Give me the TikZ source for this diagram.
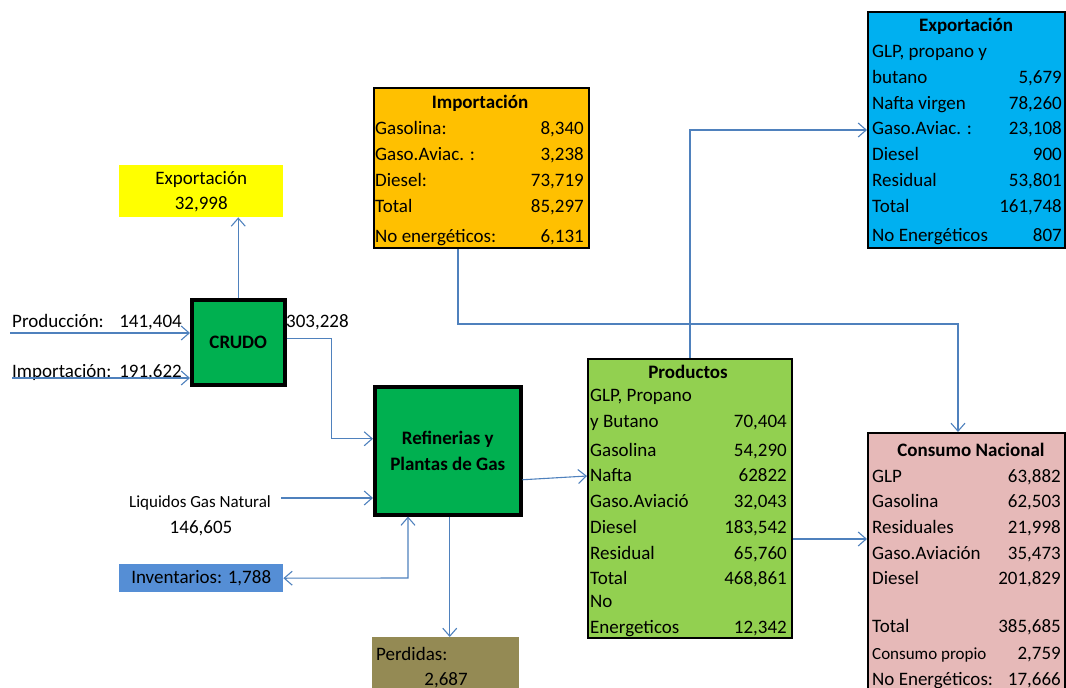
\documentclass[tikz,border=0pt]{standalone}
\usepackage{fontspec}
\setmainfont{Carlito}
\usepackage{xcolor}
\usepackage{tikz}
\usetikzlibrary{arrows.meta,positioning}
\definecolor{flowblue}{HTML}{4F81BD}
\definecolor{expcyan}{HTML}{00B0F0}
\definecolor{imporange}{HTML}{FFC000}
\definecolor{expyellow}{HTML}{FFFF00}
\definecolor{crudegreen}{HTML}{00B050}
\definecolor{prodgreen}{HTML}{92D050}
\definecolor{conspink}{HTML}{E6B9B8}
\definecolor{invblue}{HTML}{558ED5}
\definecolor{lossolive}{HTML}{948A54}
\tikzset{
  barb/.tip={Straight Barb[length=8pt,width=14pt]},
  flow/.style={draw=flowblue,line width=1.1pt,-barb},
  twoway/.style={draw=flowblue,line width=1.1pt,barb-barb},
  box/.style={draw=black,line width=2pt,inner sep=0,anchor=north west},
  heavybox/.style={box,line width=3.5pt,align=center,
    font=\fontsize{19}{26}\selectfont\bfseries},
  plainbox/.style={inner sep=0,anchor=north west,align=center},
  rowl/.style={anchor=base west,inner sep=0,yshift=-6pt},
  rowr/.style={anchor=base east,inner sep=0,yshift=-6pt},
  rowc/.style={anchor=base,inner sep=0,yshift=-6pt},
  title/.style={rowc,font=\fontsize{19}{23}\selectfont\bfseries},
  small/.style={font=\fontsize{17}{20}\selectfont}
}
\begin{document}
\begin{tikzpicture}[x=1pt,y=-1pt,font=\fontsize{19}{25}\selectfont]
  \useasboundingbox (0,0) rectangle (1066,688);

  % boxes
  \node[box,fill=expcyan,minimum width=197,minimum height=236] (expo) at (867,11) {};
  \node[box,fill=imporange,minimum width=215,minimum height=160] (imp) at (373,87) {};
  \node[plainbox,fill=expyellow,minimum width=164,minimum height=52] (expcr) at (119,165) {Exportación\\32,998};
  \node[heavybox,fill=crudegreen,minimum width=93,minimum height=85] (crudo) at (190,298) {CRUDO};
  \node[heavybox,fill=crudegreen,minimum width=146,minimum height=128] (ref) at (373,385) {Refinerias y\\Plantas de Gas};
  \node[plainbox,fill=invblue,minimum width=164,minimum height=28] (inv) at (119,564) {Inventarios: 1,788};
  \node[plainbox,fill=lossolive,minimum width=147,minimum height=60] (perd) at (372,637) {};
  \node[box,fill=prodgreen,minimum width=204,minimum height=279] (prod) at (587,358) {};
  \node[box,fill=conspink,minimum width=197,minimum height=265] (cons) at (867,432) {};

  % export of products
  \node[title] (expot) at (966,25) {Exportación};
  \foreach \y/\l/\r in {51/{GLP, propano y}/{}, 77/butano/{5,679}, 103/Nafta virgen/{78,260},
      128/Gaso.Aviac. :/{23,108}, 154/Diesel/900, 180/Residual/{53,801},
      206/Total/{161,748}, 235/No Energéticos/807}
    {\node[rowl] (expol\y) at (872,\y) {\l};
     \node[rowr] (expor\y) at (1062,\y) {\r};}

  % imports
  \node[title] (impt) at (480,102) {Importación};
  \foreach \y/\l/\r in {128/Gasolina:/{8,340}, 154/Gaso.Aviac. :/{3,238},
      180/Diesel:/{73,719}, 206/Total/{85,297}, 236/No energéticos:/{6,131}}
    {\node[rowl] (impl\y) at (375,\y) {\l};
     \node[rowr] (impr\y) at (584,\y) {\r};}

  % products
  \node[title] (prodt) at (688,372) {Productos};
  \foreach \y/\l/\r in {395/{GLP, Propano}/{}, 421/y Butano/{70,404}, 450/Gasolina/{54,290},
      475/Nafta/62822, 501/Gaso.Aviació/{32,043}, 527/Diesel/{183,542},
      553/Residual/{65,760}, 578/Total/{468,861}, 601/No/{}, 627/Energeticos/{12,342}}
    {\node[rowl] (prodl\y) at (590,\y) {\l};
     \node[rowr] (prodr\y) at (787,\y) {\r};}

  % national consumption
  \node[title] (const) at (971,450) {Consumo Nacional};
  \foreach \y/\l/\r in {476/GLP/{63,882}, 501/Gasolina/{62,503}, 527/Residuales/{21,998},
      553/Gaso.Aviación/{35,473}, 578/Diesel/{201,829}, 626/Total/{385,685},
      679/No Energéticos:/{17,666}}
    {\node[rowl] (consl\y) at (872,\y) {\l};
     \node[rowr] (consr\y) at (1061,\y) {\r};}
  \node[rowl,small] (consl653) at (872,653) {Consumo propio};
  \node[rowr] (consr653) at (1061,653) {2,759};

  % losses
  \node[rowl] (perdl) at (376,654) {Perdidas:};
  \node[rowc] (perdv) at (446,679) {2,687};

  % inputs to crude
  \node[rowl] (prodlbl) at (12,321) {Producción:};
  \node[rowr] (prodval) at (182,321) {141,404};
  \node[rowl] (implbl) at (12,371) {Importación:};
  \node[rowr] (impval) at (182,371) {191,622};
  \node[rowl] (crudoval) at (286,321) {303,228};
  \node[rowc,small] (lgnlbl) at (200,501) {Liquidos Gas Natural};
  \node[rowc] (lgnval) at (201,527) {146,605};

  % connectors
  \coordinate (prodin) at (10,333);
  \coordinate (impin) at (12,378);
  \coordinate (lgnin) at (281,498);
  \coordinate (invc) at (408,578);
  \coordinate (crout) at ([yshift=3.5]crudo.east);
  \coordinate (pcout) at ([yshift=-40.5]prod.east);
  \draw[flow] (prodin) -- (prodin -| crudo.west);
  \draw[flow] (impin) -- (impin -| crudo.west);
  \draw[flow] (crudo.north) -- (crudo.north |- expcr.south);
  \draw[flow] (crout) -- ++(45,0) |- ([yshift=12]ref.west);
  \draw[flow] (lgnin) -- (lgnin -| ref.west);
  \draw[twoway] (inv.east) -- (invc) -- (invc |- ref.south);
  \draw[flow] ([xshift=2]ref.south) -- ([xshift=2]ref.south |- perd.north);
  \draw[flow] ([yshift=-29]ref.east) -- ([yshift=22.5]prod.west);
  \draw[flow] (prod.north) |- (expo.west);
  \draw[flow] ([xshift=-23.5]imp.south) -- ++(0,75) -| ([xshift=-8.5]cons.north);
  \draw[flow] (pcout) -- (pcout -| cons.west);
\end{tikzpicture}
\end{document}
